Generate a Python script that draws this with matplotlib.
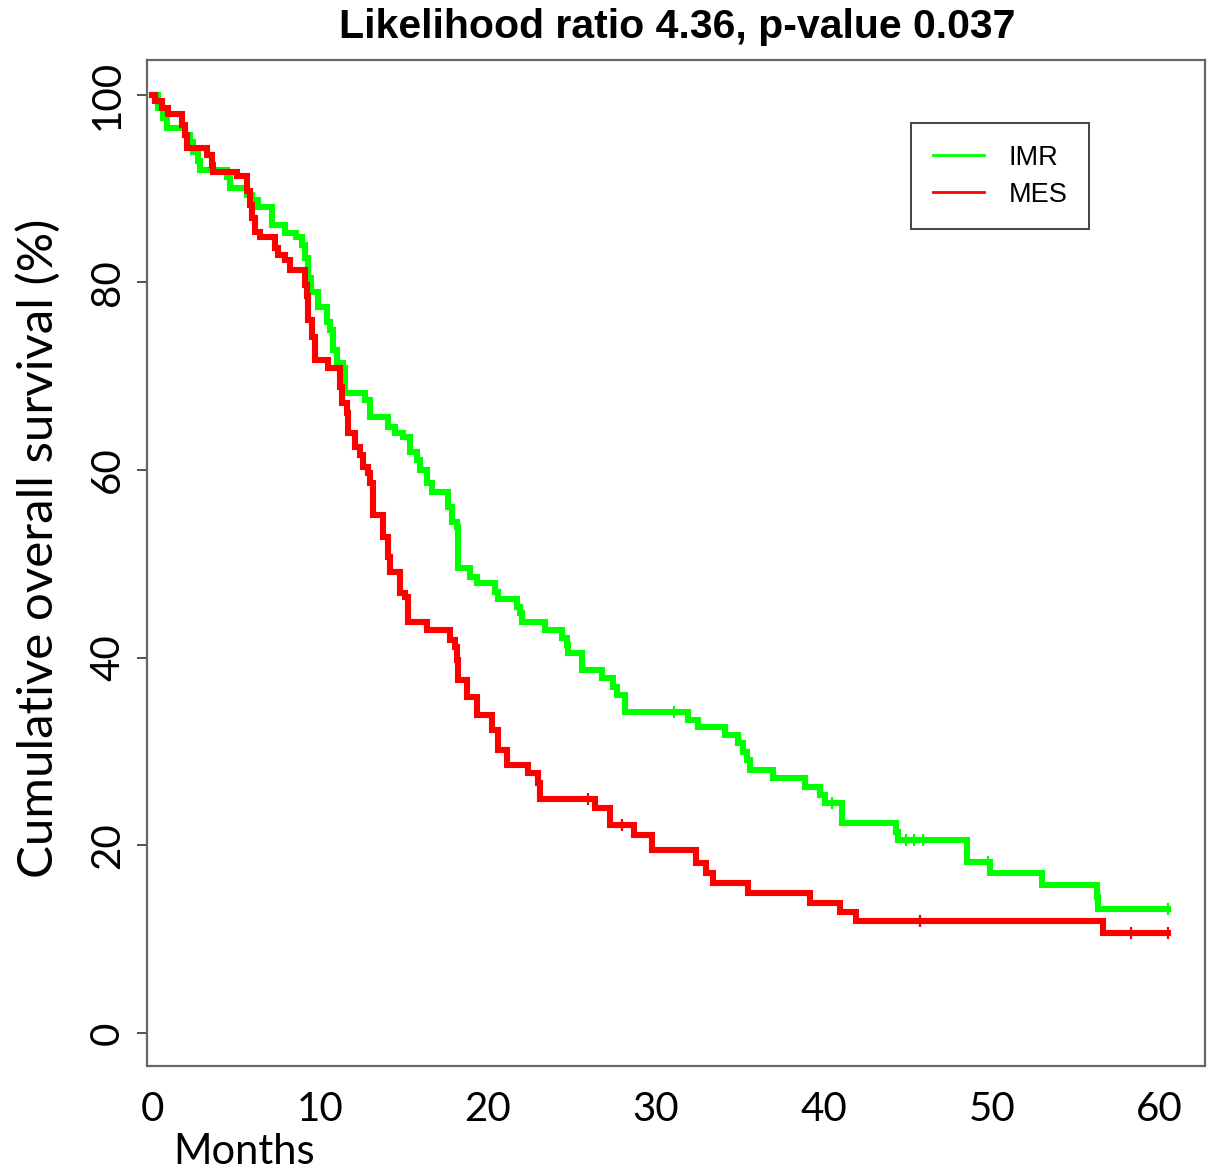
import numpy as np
import matplotlib
matplotlib.use("Agg")
import matplotlib.pyplot as plt
from matplotlib.lines import Line2D

# ---- data (months, survival %) ----
imr_times = [0, 0.36, 0.65, 0.89, 1.96, 2.26, 2.44, 2.74, 2.86, 4.46, 4.64, 5.65, 5.95, 6.31,
             7.14, 7.92, 8.57, 8.93, 9.11, 9.29, 9.46, 9.88, 10.42, 10.6, 10.77, 11.01, 11.37,
             11.49, 12.68, 12.98, 14.05, 14.46, 14.94, 15.36, 15.77, 15.95, 16.37, 16.67, 17.62,
             17.86, 18.15, 18.21, 18.93, 19.35, 20.42, 20.6, 21.73, 21.9, 22.02, 23.39, 24.4,
             24.7, 24.76, 25.6, 26.79, 27.44, 27.68, 28.15, 31.9, 32.5, 34.1, 34.9, 35.2, 35.4,
             35.6, 37.0, 38.9, 39.8, 40.1, 41.1, 44.3, 44.4, 48.5, 49.9, 53.0, 56.25, 56.3]
imr_surv = [100, 98.6, 97.5, 96.5, 95.7, 95.0, 93.9, 92.9, 92.0, 91.2, 90.1, 89.3, 88.8, 88.0,
            86.1, 85.3, 84.8, 84.0, 82.6, 80.5, 79.0, 77.4, 75.8, 74.9, 72.8, 71.4, 70.9,
            68.2, 67.5, 65.7, 64.6, 64.0, 63.5, 61.9, 61.1, 60.0, 58.6, 57.7, 56.1,
            54.5, 53.9, 49.6, 48.6, 48.0, 47.0, 46.3, 45.4, 44.8, 43.8, 43.0, 42.1,
            41.4, 40.5, 38.7, 37.8, 36.9, 36.0, 34.2, 33.4, 32.6, 31.8, 30.9, 30.0, 29.1,
            28.0, 27.2, 26.2, 25.4, 24.5, 22.4, 21.4, 20.6, 18.2, 17.1, 15.8, 14.5, 13.2]
imr_end = 60.5
imr_censor = [31.1, 40.5, 44.9, 45.4, 45.9, 49.8, 60.5]

mes_times = [0, 0.18, 0.6, 0.95, 1.79, 1.96, 2.08, 3.27, 3.57, 3.63, 5.06, 5.65, 5.83, 5.95,
             6.13, 6.43, 7.32, 7.5, 7.92, 8.21, 9.11, 9.23, 9.29, 9.52, 9.7, 10.48, 11.19,
             11.31, 11.61, 11.67, 12.08, 12.38, 12.56, 12.86, 12.98, 13.15, 13.75, 14.05,
             14.17, 14.76, 15.06, 15.24, 16.37, 17.74, 18.04, 18.15, 18.21, 18.75, 19.35,
             20.24, 20.6, 21.13, 22.38, 22.98, 23.1, 26.4, 27.26, 28.7, 29.8, 32.4, 33.0,
             33.4, 35.5, 39.2, 40.95, 41.9, 56.6]
mes_surv = [100, 99.3, 98.6, 97.9, 96.8, 95.7, 94.3, 93.6, 92.5, 91.8, 91.3, 89.7, 88.3, 86.9,
            85.4, 84.8, 83.7, 82.9, 82.4, 81.3, 79.7, 78.5, 76.0, 74.2, 71.7, 70.9, 68.9,
            67.2, 66.1, 64.0, 62.5, 61.6, 60.3, 59.7, 58.6, 55.2, 52.9, 50.7,
            49.1, 46.9, 46.5, 43.8, 43.0, 41.9, 41.2, 39.8, 37.6, 35.8, 33.9,
            32.3, 30.2, 28.6, 27.7, 26.7, 24.9, 24.0, 22.2, 21.1, 19.5, 18.1, 17.1,
            16.0, 14.9, 13.9, 12.9, 11.9, 10.7]
mes_end = 60.5
mes_censor = [25.95, 28.0, 45.7, 58.3, 60.5]

groups = ["IMR", "MES"]
colors = ["#00FF00", "#FF0000"]
title = "Likelihood ratio 4.36, p-value 0.037"
x_ticks = [0, 10, 20, 30, 40, 50, 60]
y_ticks = [0, 20, 40, 60, 80, 100]

NARROW = ["Liberation Sans Narrow", "Lato", "DejaVu Sans"]
ARIAL = ["Liberation Sans", "DejaVu Sans"]

fig = plt.figure(figsize=(12.24, 11.75), dpi=100)
ax = fig.add_axes([147 / 1224, 1 - 1066 / 1175, (1205 - 147) / 1224, (1066 - 60) / 1175])

series = [(imr_times, imr_surv, imr_end, imr_censor), (mes_times, mes_surv, mes_end, mes_censor)]
for (t, s, end, cens), col, name in zip(series, colors, groups):
    tt = np.append(np.array(t, float), end)
    ss = np.append(np.array(s, float), s[-1])
    ax.step(tt, ss, where="post", color=col, lw=4.4, solid_joinstyle="miter", label=name)
    idx = np.searchsorted(np.array(t, float), np.array(cens, float), side="right") - 1
    ax.plot(cens, np.array(s, float)[idx], linestyle="none", marker="|", ms=8, mew=1.6, color=col)

ax.set_xlim(-0.3, 62.7)
ax.set_ylim(-3.5, 103.7)
for sp in ax.spines.values():
    sp.set_color("#666666")
    sp.set_linewidth(1.6)

ax.set_xticks(x_ticks)
ax.set_xticklabels([str(v) for v in x_ticks], fontfamily=NARROW, fontsize=29)
ax.tick_params(axis="x", length=0, pad=18)
ax.set_yticks(y_ticks)
ax.set_yticklabels([str(v) for v in y_ticks], fontfamily=NARROW, fontsize=29, rotation=90, va="center")
ax.tick_params(axis="y", length=7, width=1.2, color="#333333", pad=8)

fig.text(173 / 1224, 1 - 1152 / 1175, "Months", fontfamily=NARROW, fontsize=30, ha="left", va="center")
fig.text(38 / 1224, 1 - 548 / 1175, "Cumulative overall survival (%)", fontfamily=NARROW,
         fontsize=35.5, rotation=90, ha="center", va="center")
fig.text(677 / 1224, 1 - 27 / 1175, title, fontfamily=ARIAL, fontweight="bold", fontsize=29.5,
         ha="center", va="center")

handles = [Line2D([], [], color=c, lw=2) for c in colors]
leg = ax.legend(handles, groups, loc="upper left", bbox_to_anchor=((911 - 147) / 1058, 1 - (123 - 60) / 1006),
                frameon=True, fancybox=False, edgecolor="#444444", framealpha=1,
                prop={"family": ARIAL, "size": 19.5}, handlelength=1.9, handletextpad=0.9,
                borderpad=0.8, labelspacing=0.4, borderaxespad=0)
leg.get_frame().set_linewidth(1.4)

fig.savefig("out.png", dpi=100, facecolor="white")
